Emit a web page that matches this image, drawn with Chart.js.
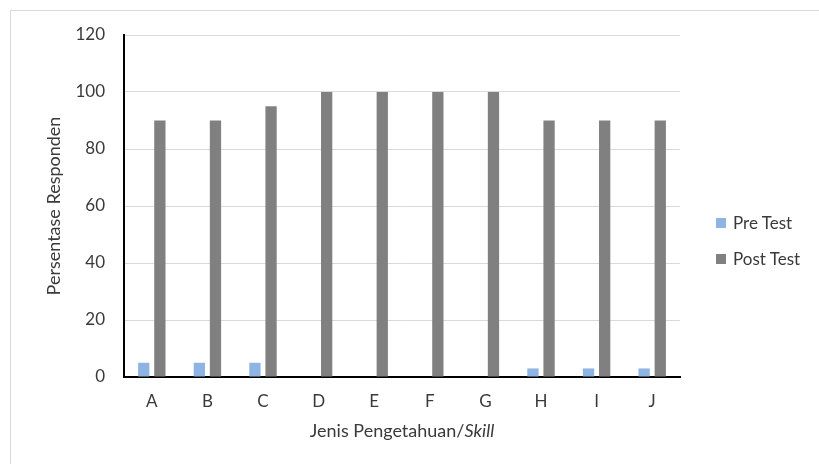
<!DOCTYPE html>
<html lang="id">
<head>
  <meta charset="UTF-8">
  <title>Persentase Responden</title>
  <script src="https://cdn.jsdelivr.net/npm/chart.js"></script>
  <style>
    body {
      margin: 0;
      padding: 0;
      background: #fff;
      font-family: Lato, "Open Sans", sans-serif;
    }
    .wrap {
      position: relative;
      width: 819px;
      height: 464px;
      overflow: hidden;
    }
    .frame {
      position: absolute;
      left: 10px;
      top: 10px;
      width: 830px;
      height: 480px;
      border: 1px solid #d9d9d9;
    }
    canvas {
      position: absolute;
      left: 0;
      top: 0;
    }
    .legend {
      position: absolute;
      left: 716px;
      top: 212px;
      font-size: 17px;
      color: #3a3a3a;
    }
    .legend div {
      height: 36px;
      line-height: 22px;
      display: flex;
      align-items: flex-start;
    }
    .legend span.box {
      display: inline-block;
      width: 10px;
      height: 10px;
      margin: 6px 7px 0 0;
    }
  </style>
</head>
<body>
  <div class="wrap">
    <div class="frame"></div>
    <canvas id="chart" width="819" height="464"></canvas>
    <div class="legend" id="legend"></div>
  </div>

  <script>
    // data
    const categories = ['A', 'B', 'C', 'D', 'E', 'F', 'G', 'H', 'I', 'J'];
    const preTest = [5, 5, 5, 0, 0, 0, 0, 3, 3, 3];
    const postTest = [90, 90, 95, 100, 100, 100, 100, 90, 90, 90];
    const seriesNames = ['Pre Test', 'Post Test'];
    const yTicks = [0, 20, 40, 60, 80, 100, 120];

    const textColor = '#3a3a3a';
    const fontFamily = 'Lato, "Open Sans", sans-serif';

    // x axis title has an italic part, so draw it by hand
    const xTitlePlugin = {
      id: 'xTitle',
      afterDraw(chart) {
        const ctx = chart.ctx;
        const area = chart.chartArea;
        const cx = (area.left + area.right) / 2;
        const y = 431;
        const plain = 'Jenis Pengetahuan/';
        const ital = 'Skill';
        ctx.save();
        ctx.fillStyle = textColor;
        ctx.textBaseline = 'middle';
        ctx.textAlign = 'left';
        ctx.font = '18px ' + fontFamily;
        const w1 = ctx.measureText(plain).width;
        ctx.font = 'italic 18px ' + fontFamily;
        const w2 = ctx.measureText(ital).width;
        const x = cx - (w1 + w2) / 2;
        ctx.font = '18px ' + fontFamily;
        ctx.fillText(plain, x, y);
        ctx.font = 'italic 18px ' + fontFamily;
        ctx.fillText(ital, x + w1, y);
        ctx.restore();
      }
    };

    const chart = new Chart(document.getElementById('chart'), {
      type: 'bar',
      data: {
        labels: categories,
        datasets: [{
          label: seriesNames[0],
          data: preTest,
          backgroundColor: '#8db4e2'
        }, {
          label: seriesNames[1],
          data: postTest,
          backgroundColor: '#808080'
        }]
      },
      options: {
        responsive: false,
        animation: false,
        datasets: {
          bar: {
            categoryPercentage: 0.58,
            barPercentage: 0.7
          }
        },
        layout: {
          padding: { left: 43, top: 35, right: 139, bottom: 0 }
        },
        plugins: {
          legend: { display: false },
          tooltip: { enabled: false }
        },
        scales: {
          x: {
            grid: { display: false, drawTicks: false },
            border: { color: '#000', width: 2 },
            ticks: {
              color: textColor,
              padding: 14,
              font: { family: fontFamily, size: 17 }
            },
            afterFit(scale) { scale.height = 87; }
          },
          y: {
            min: 0,
            max: 120,
            afterBuildTicks(scale) {
              scale.ticks = yTicks.map(v => ({ value: v }));
            },
            grid: { color: '#d9d9d9', drawTicks: false },
            border: { color: '#000', width: 2 },
            ticks: {
              color: textColor,
              padding: 19,
              font: { family: fontFamily, size: 17 }
            },
            title: {
              display: true,
              text: 'Persentase Responden',
              color: textColor,
              font: { family: fontFamily, size: 18 },
              padding: 0
            },
            afterFit(scale) { scale.width = 81; }
          }
        }
      },
      plugins: [xTitlePlugin]
    });

    // legend as html, built from the datasets
    const legendEl = document.getElementById('legend');
    chart.data.datasets.forEach(ds => {
      const row = document.createElement('div');
      const box = document.createElement('span');
      box.className = 'box';
      box.style.background = ds.backgroundColor;
      row.appendChild(box);
      row.appendChild(document.createTextNode(ds.label));
      legendEl.appendChild(row);
    });
  </script>
</body>
</html>
